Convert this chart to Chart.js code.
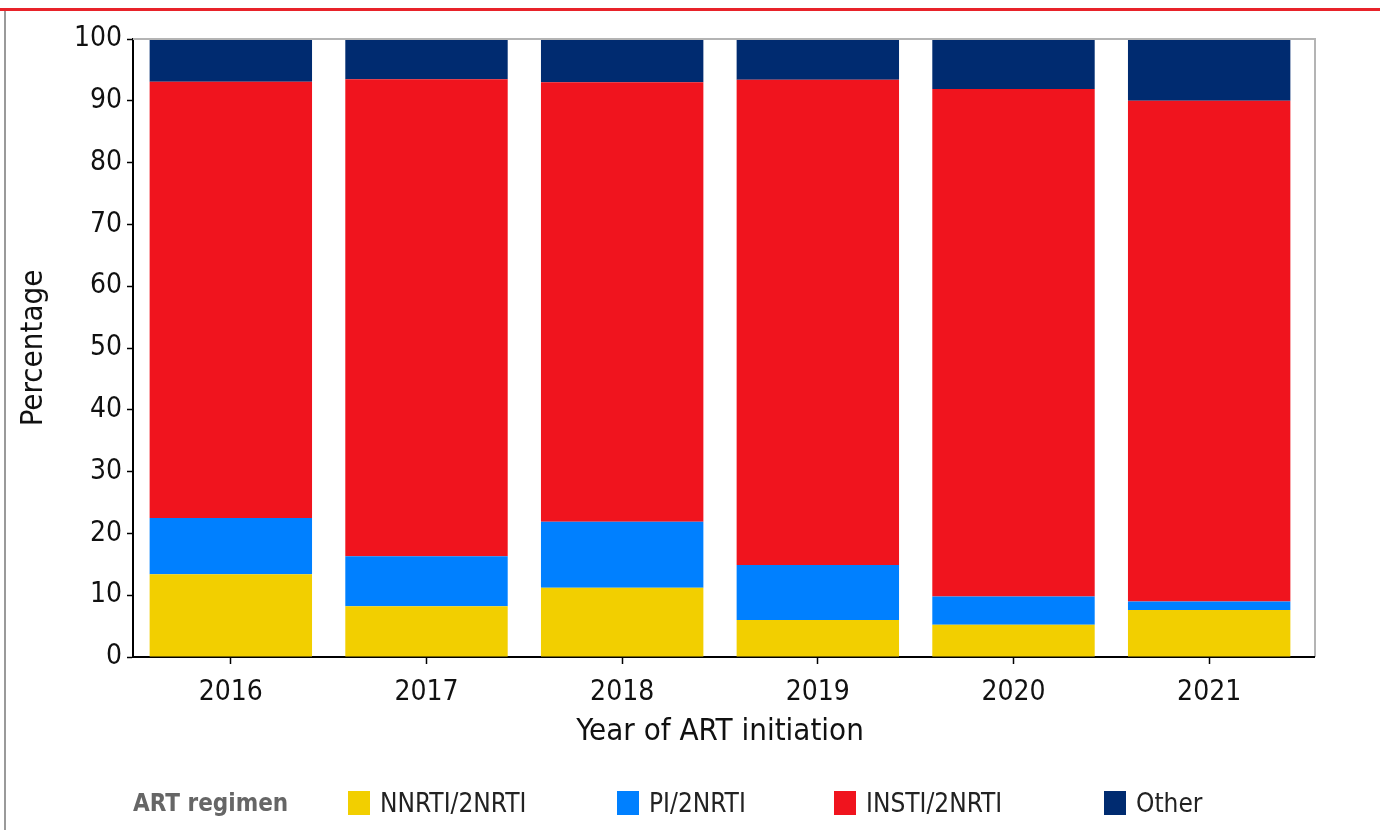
<!DOCTYPE html>
<html>
<head>
<meta charset="utf-8">
<script src="https://cdn.jsdelivr.net/npm/chart.js@4"></script>
<style>
  html, body { margin: 0; padding: 0; background: #fff; }
  #wrap { position: relative; width: 1386px; height: 830px; overflow: hidden; }
  #topline { position: absolute; left: 0; top: 8px; width: 1380px; height: 3px; background: #e8232a; }
  #leftline { position: absolute; left: 4px; top: 11px; width: 2px; height: 819px; background: #9a9a9a; }
  canvas { position: absolute; left: 0; top: 0; }
  #legend { position: absolute; top: 789px; left: 0; height: 28px; font-family: "DejaVu Sans Condensed", "DejaVu Sans", sans-serif; }
  #legend .ttl { position: absolute; left: 133px; top: 0; font-weight: bold; font-size: 24px; color: #666; white-space: nowrap; line-height: 28px; }
  #legend .item { position: absolute; top: 0; white-space: nowrap; font-size: 26px; color: #222; line-height: 28px; }
  #legend .box { display: inline-block; width: 22px; height: 24px; vertical-align: middle; margin-right: 10px; margin-top: -3px; }
</style>
</head>
<body>
<div id="wrap">
  <div id="topline"></div>
  <div id="leftline"></div>
  <canvas id="artChart" width="1386" height="830"></canvas>
  <div id="legend"></div>
</div>
<script>
'use strict';

const years = ['2016', '2017', '2018', '2019', '2020', '2021']
const regimens = ['NNRTI/2NRTI', 'PI/2NRTI', 'INSTI/2NRTI', 'Other']
const nnrti = [13.4, 8.2, 11.2, 6.0, 5.2, 7.6]
const pi = [9.1, 8.1, 10.7, 8.9, 4.6, 1.4]
const insti = [70.6, 77.2, 71.1, 78.5, 82.1, 81.0]
const other = [6.9, 6.5, 7.0, 6.6, 8.1, 10.0]
const yTicks = [0, 10, 20, 30, 40, 50, 60, 70, 80, 90, 100]

const colors = ['#f2cf00', '#0080ff', '#f0141e', '#002b70']
const legendX = [348, 617, 834, 1104]
const fontName = 'DejaVu Sans Condensed'
const frameExtra = 8

const ctx = document.getElementById('artChart')

// grey frame on top and right, a bit beyond the last category
const framePlugin = {
  id: 'frame',
  afterDraw(chart) {
    const a = chart.chartArea
    const c = chart.ctx
    const r = a.right + frameExtra
    c.save()
    c.strokeStyle = '#b4b4b4'
    c.lineWidth = 2
    c.beginPath()
    c.moveTo(a.left, a.top)
    c.lineTo(r, a.top)
    c.lineTo(r, a.bottom)
    c.stroke()
    c.strokeStyle = '#000'
    c.beginPath()
    c.moveTo(a.right - 1, a.bottom)
    c.lineTo(r, a.bottom)
    c.stroke()
    c.restore()
  }
}

function makeDataset(label, values, idx) {
  return {
    label: label,
    data: values,
    backgroundColor: colors[idx],
    borderWidth: 0,
    barPercentage: 0.83,
    categoryPercentage: 1.0
  }
}

const artChart = new Chart(ctx, {
  type: 'bar',
  data: {
    labels: years,
    datasets: [
      makeDataset(regimens[0], nnrti, 0),
      makeDataset(regimens[1], pi, 1),
      makeDataset(regimens[2], insti, 2),
      makeDataset(regimens[3], other, 3)
    ]
  },
  options: {
    responsive: false,
    animation: false,
    layout: { padding: { top: 39, right: 79, left: 0, bottom: 0 } },
    plugins: {
      legend: { display: false },
      tooltip: { enabled: false }
    },
    scales: {
      x: {
        stacked: true,
        afterFit: (scale) => { scale.height = 173 },
        grid: { display: true, drawOnChartArea: false, offset: false, color: '#000', tickLength: 7, tickWidth: 1.5 },
        border: { color: '#000', width: 2 },
        ticks: { color: '#111', padding: 12, font: { family: fontName, size: 28 } },
        title: {
          display: true,
          text: 'Year of ART initiation',
          color: '#111',
          font: { family: fontName, size: 31 },
          padding: { top: 0, bottom: 79 }
        }
      },
      y: {
        stacked: true,
        min: 0,
        max: 100,
        afterFit: (scale) => { scale.width = 133 },
        afterBuildTicks: (scale) => { scale.ticks = yTicks.map(v => ({ value: v })) },
        grid: { display: true, drawOnChartArea: false, color: '#000', tickLength: 6, tickWidth: 1.5 },
        border: { color: '#000', width: 2 },
        ticks: { color: '#111', padding: 5, font: { family: fontName, size: 28 } },
        title: {
          display: true,
          text: 'Percentage',
          color: '#111',
          font: { family: fontName, size: 31 },
          padding: { top: 15, bottom: 0 }
        }
      }
    }
  },
  plugins: [framePlugin]
})

// legend row under the chart
const legendEl = document.getElementById('legend')
const ttl = document.createElement('span')
ttl.className = 'ttl'
ttl.textContent = 'ART regimen'
legendEl.appendChild(ttl)
regimens.forEach((name, idx) => {
  const item = document.createElement('span')
  item.className = 'item'
  item.style.left = legendX[idx] + 'px'
  const box = document.createElement('span')
  box.className = 'box'
  box.style.background = colors[idx]
  item.appendChild(box)
  item.appendChild(document.createTextNode(name))
  legendEl.appendChild(item)
})
</script>
</body>
</html>
